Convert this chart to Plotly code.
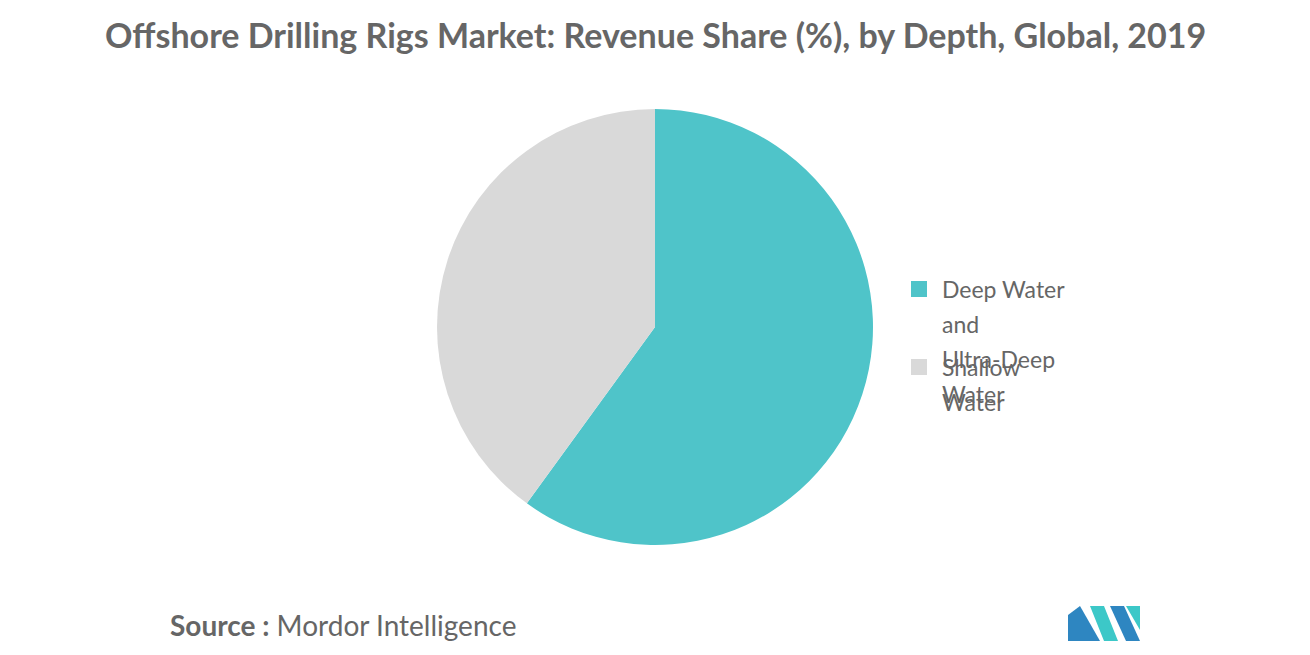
import plotly.graph_objects as go

labels = ["Deep Water and Ultra-Deep Water", "Shallow Water"]
values = [60, 40]
legend_lines = [["Deep Water", "and", "Ultra-Deep", "Water"], ["Shallow", "Water"]]
colors = ["#4FC4C9", "#D9D9D9"]

W, H = 1310, 655
def px(x): return (x - 8) / W
def py(y): return 1 - (y - 8) / H

fig = go.Figure(go.Pie(labels=labels, values=values, marker=dict(colors=colors),
                       sort=False, direction="clockwise", rotation=0,
                       textinfo="none", hoverinfo="label+percent",
                       domain=dict(x=[px(437), px(873)], y=[py(545), py(109)])))

ann = [
    dict(text="<b>Offshore Drilling Rigs Market: Revenue Share (%), by Depth, Global, 2019</b>",
         x=px(655), y=py(35), xref="paper", yref="paper", showarrow=False,
         font=dict(family="Lato", size=34, color="#666666"), xanchor="center", yanchor="middle"),
    dict(text="<b>Source :</b> Mordor Intelligence", x=px(168), y=py(625), xref="paper", yref="paper",
         showarrow=False, font=dict(family="Lato", size=28, color="#666666"), xanchor="left", yanchor="middle"),
]
shapes = []
starts = [289, 367]
for i, lines in enumerate(legend_lines):
    y0 = starts[i]
    shapes.append(dict(type="rect", xref="paper", yref="paper", x0=px(911), x1=px(927),
                       y0=py(y0 + 8), y1=py(y0 - 8), fillcolor=colors[i], line=dict(width=0)))
    for j, t in enumerate(lines):
        ann.append(dict(text=t, x=px(940), y=py(y0 + 35 * j), xref="paper", yref="paper", showarrow=False,
                        font=dict(family="Lato", size=23, color="#666666"), xanchor="left", yanchor="middle"))

def path(pts):
    return "M " + " L ".join(f"{px(x)},{py(y)}" for x, y in pts) + " Z"
shapes += [
    dict(type="path", xref="paper", yref="paper", path=path([(1068, 641), (1068, 615), (1080, 606), (1100, 641)]), fillcolor="#2E86C1", line=dict(width=0)),
    dict(type="path", xref="paper", yref="paper", path=path([(1090, 606), (1104, 606), (1118, 641), (1104, 641)]), fillcolor="#3CC8C8", line=dict(width=0)),
    dict(type="path", xref="paper", yref="paper", path=path([(1110, 606), (1124, 606), (1140, 641), (1126, 641)]), fillcolor="#2E86C1", line=dict(width=0)),
    dict(type="path", xref="paper", yref="paper", path=path([(1126, 606), (1140, 606), (1140, 630)]), fillcolor="#3CC8C8", line=dict(width=0)),
]

fig.update_layout(width=W, height=H, margin=dict(l=0, r=0, t=0, b=0), showlegend=False,
                  paper_bgcolor="white", plot_bgcolor="white", annotations=ann, shapes=shapes)
fig.write_html("out.html")
